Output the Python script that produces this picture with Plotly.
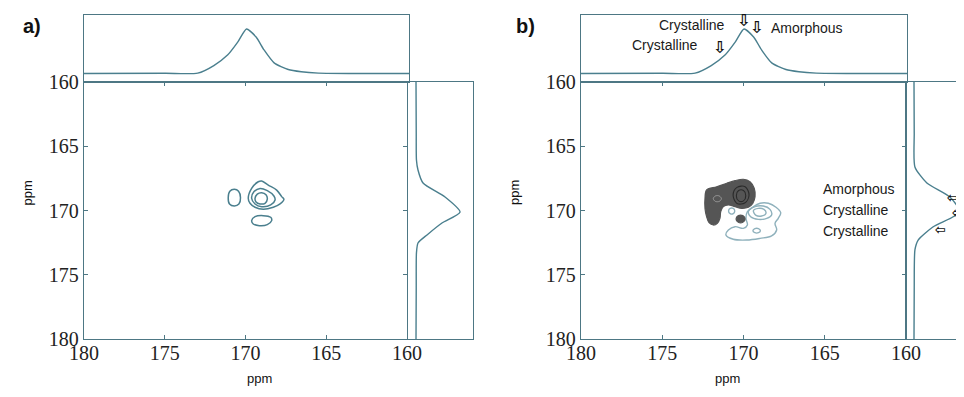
import plotly.graph_objects as go

# ---------------- data (ppm / relative intensity) ----------------
ticks_ppm = [180, 175, 170, 165, 160]

# F2 (horizontal) projection, used above both panels
proj_top_ppm = [180, 175, 173.0, 172.01, 171.15, 170.53, 170.0, 169.41, 168.92, 168.30, 167.43, 166.63, 165.57, 163, 160]
proj_top_int = [0.0, 0.005, 0.01, 0.18, 0.42, 0.71, 1.0, 0.82, 0.53, 0.24, 0.09, 0.04, 0.01, 0.0, 0.0]

# F1 (vertical) projection, panel a
proj_a_right_ppm = [160, 164, 166.07, 166.85, 167.86, 168.95, 170.12, 170.97, 171.9, 172.53, 173.3, 176, 180]
proj_a_right_int = [0, 0.005, 0.01, 0.045, 0.16, 0.66, 1.0, 0.59, 0.25, 0.045, 0.01, 0.005, 0]

# F1 (vertical) projection, panel b
proj_b_right_ppm = [160, 164, 166.61, 167.86, 168.95, 170.12, 171.28, 172.30, 173.07, 176, 180]
proj_b_right_int = [0, 0.005, 0.02, 0.28, 0.78, 1.0, 0.41, 0.09, 0.02, 0.005, 0]

# panel a contour rings (x ppm, y ppm)
a_left_x = [171.07, 170.97, 170.69, 170.43, 170.31, 170.41, 170.69, 170.99]
a_left_y = [169.0, 168.5, 168.35, 168.5, 169.0, 169.5, 169.65, 169.5]
a_outer_x = [169.83, 169.62, 169.21, 169.0, 168.59, 168.07, 167.76, 167.62, 167.86, 168.28, 168.90, 169.41, 169.72]
a_outer_y = [169.05, 168.28, 167.76, 167.70, 168.02, 168.41, 168.92, 169.13, 169.49, 169.75, 169.91, 169.75, 169.44]
a_mid_x = [169.62, 169.47, 169.10, 168.65, 168.24, 168.17, 168.44, 169.0, 169.41]
a_mid_y = [169.05, 168.53, 168.28, 168.46, 168.87, 169.18, 169.57, 169.70, 169.49]
a_inner_x = [169.41, 169.27, 169.0, 168.73, 168.65, 168.79, 169.10, 169.35]
a_inner_y = [169.05, 168.72, 168.61, 168.77, 169.11, 169.44, 169.49, 169.34]
a_low_x = [169.62, 169.41, 168.90, 168.44, 168.38, 168.65, 169.14, 169.52]
a_low_y = [170.79, 170.48, 170.40, 170.53, 170.79, 171.10, 171.18, 171.05]

# panel b: dark filled region
b_dark_x = [172.27, 171.65, 171.03, 170.52, 170.01, 169.6, 169.34, 169.29, 169.43, 169.7, 170.11, 170.52,
            170.94, 171.24, 171.4, 171.45, 171.61, 171.86, 172.12, 172.27, 172.37, 172.37]
b_dark_y = [168.4, 168.15, 167.88, 167.68, 167.57, 167.76, 168.27, 168.93, 169.44, 169.75, 169.83, 169.7,
            169.57, 169.7, 170.09, 170.61, 171.0, 171.13, 170.95, 170.48, 169.83, 169.05]
b_spot_x = [170.46, 170.32, 170.04, 169.9, 170.04, 170.32]
b_spot_y = [170.66, 170.4, 170.4, 170.66, 170.92, 170.92]
b_dring1_x = [170.64, 170.40, 169.90, 169.66, 169.90, 170.40]
b_dring1_y = [168.79, 168.2, 168.15, 168.79, 169.4, 169.45]
b_dring2_x = [170.44, 170.30, 170.0, 169.86, 170.0, 170.30]
b_dring2_y = [168.85, 168.45, 168.45, 168.85, 169.25, 169.25]
b_dsmall_x = [171.86, 171.73, 171.49, 171.36, 171.49, 171.73]
b_dsmall_y = [169.08, 168.87, 168.87, 169.08, 169.29, 169.29]

# panel b: light contours
b_outer_x = [171.08, 170.93, 170.52, 170.01, 169.76, 169.85, 169.76, 169.44, 168.98, 168.47, 168.0, 167.71,
             167.86, 168.06, 167.96, 168.27, 168.98, 169.8, 170.63]
b_outer_y = [171.91, 171.52, 171.26, 171.39, 171.13, 170.61, 170.09, 169.75, 169.44, 169.44, 169.75, 170.17,
             170.61, 171.0, 171.52, 171.98, 172.17, 172.3, 172.24]
b_mid_x = [169.70, 169.29, 168.78, 168.37, 168.27, 168.57, 169.09, 169.56]
b_mid_y = [170.09, 169.70, 169.65, 169.91, 170.35, 170.61, 170.69, 170.48]
b_in_x = [169.39, 169.09, 168.74, 168.62, 168.88, 169.23]
b_in_y = [170.01, 169.83, 169.91, 170.22, 170.43, 170.38]
b_left_x = [170.92, 170.82, 170.63, 170.54, 170.63, 170.82]
b_left_y = [170.04, 169.84, 169.84, 170.04, 170.25, 170.25]
b_low_x = [169.42, 169.30, 169.08, 168.96, 169.08, 169.30]
b_low_y = [171.57, 171.41, 171.41, 171.57, 171.73, 171.73]

# arrows / labels in panel b
top_arrow_ppm = [170.03, 169.23, 171.51]
top_arrow_int = [1.2, 1.045, 0.59]
top_lab_text = ["Crystalline", "Amorphous", "Crystalline"]
top_lab_ppm = [171.02, 168.49, 172.68]
top_lab_int = [1.09, 1.03, 0.64]
top_lab_anchor = ["right", "left", "right"]

right_arrow_ppm = [168.95, 170.17, 171.44]
right_arrow_int = [0.84, 0.95, 0.57]
right_lab_text = ["Amorphous", "Crystalline", "Crystalline"]
right_lab_x_ppm = 165.23
right_lab_y_ppm = [168.33, 169.96, 171.6]

# ---------------- styling ----------------
OFF = 8                      # page body margin
W, H = 964 - OFF, 397 - OFF
AX = "#4d7784"
CURVE = "#4a7f8e"
LIGHT = "#8fb1bc"
TICKFONT = dict(family="Liberation Serif", size=20, color="#222")

def px(v):
    return (v - OFF) / W

def py(v):
    return 1 - (v - OFF) / H

fig = go.Figure()

def closed(xs, ys):
    return xs + xs[:1], ys + ys[:1]

def ring(xs, ys, xa, ya, color, width=1.3, fill=None):
    cx, cy = closed(xs, ys)
    fig.add_trace(go.Scatter(x=cx, y=cy, xaxis=xa, yaxis=ya, mode="lines",
                             line=dict(color=color, width=width, shape="spline", smoothing=1.0),
                             fill="toself" if fill else None, fillcolor=fill,
                             hoverinfo="skip", showlegend=False))

# panel a
fig.add_trace(go.Scatter(x=proj_top_ppm, y=proj_top_int, xaxis="x2", yaxis="y2", mode="lines",
                         line=dict(color=CURVE, width=1.4, shape="spline", smoothing=0.6), showlegend=False))
fig.add_trace(go.Scatter(x=proj_a_right_int, y=proj_a_right_ppm, xaxis="x3", yaxis="y3", mode="lines",
                         line=dict(color=CURVE, width=1.4, shape="spline", smoothing=0.6), showlegend=False))
for xs, ys in [(a_left_x, a_left_y), (a_outer_x, a_outer_y), (a_mid_x, a_mid_y),
               (a_inner_x, a_inner_y), (a_low_x, a_low_y)]:
    ring(xs, ys, "x", "y", CURVE, 1.5)

# panel b
fig.add_trace(go.Scatter(x=proj_top_ppm, y=proj_top_int, xaxis="x5", yaxis="y5", mode="lines",
                         line=dict(color=CURVE, width=1.4, shape="spline", smoothing=0.6), showlegend=False))
fig.add_trace(go.Scatter(x=proj_b_right_int, y=proj_b_right_ppm, xaxis="x6", yaxis="y6", mode="lines",
                         line=dict(color=CURVE, width=1.4, shape="spline", smoothing=0.6), showlegend=False))
for xs, ys in [(b_outer_x, b_outer_y), (b_mid_x, b_mid_y), (b_in_x, b_in_y),
               (b_left_x, b_left_y), (b_low_x, b_low_y)]:
    ring(xs, ys, "x4", "y4", LIGHT, 1.4)
ring(b_dark_x, b_dark_y, "x4", "y4", "#555555", 1.2, fill="#555555")
ring(b_spot_x, b_spot_y, "x4", "y4", "#555555", 1.2, fill="#555555")
ring(b_dring1_x, b_dring1_y, "x4", "y4", "#2a2a2a", 1.1)
ring(b_dring2_x, b_dring2_y, "x4", "y4", "#2a2a2a", 1.1)
ring(b_dsmall_x, b_dsmall_y, "x4", "y4", "#9a9a9a", 1.0)

main_x = dict(range=[180, 160], tickvals=ticks_ppm, ticktext=[str(t) for t in ticks_ppm],
              ticks="inside", ticklen=4, tickcolor=AX, showline=True, linecolor=AX, linewidth=1.3,
              mirror="ticks", showgrid=False, zeroline=False, tickfont=TICKFONT, automargin=False,
              ticklabelstandoff=-4)
main_y = dict(range=[180, 160], tickvals=ticks_ppm, ticktext=[str(t) for t in ticks_ppm],
              ticks="inside", ticklen=4, tickcolor=AX, showline=True, linecolor=AX, linewidth=1.3,
              mirror="ticks", showgrid=False, zeroline=False, tickfont=TICKFONT, automargin=False)
box = dict(showline=True, linecolor=AX, linewidth=1.3, mirror=True, showgrid=False, zeroline=False,
           showticklabels=False, ticks="", automargin=False)

MAIN_Y = [py(339), py(82)]
TOP_Y = [py(82), py(15)]

layout = dict(
    template="none",
    width=W, height=H, margin=dict(l=0, r=0, t=0, b=0, pad=0), autosize=False,
    paper_bgcolor="white", plot_bgcolor="rgba(0,0,0,0)",
    xaxis=dict(main_x, domain=[px(84), px(407)], anchor="y"),
    yaxis=dict(main_y, domain=MAIN_Y, anchor="x"),
    xaxis2=dict(box, domain=[px(84), px(409)], range=[180, 160], anchor="y2"),
    yaxis2=dict(box, domain=TOP_Y, range=[-0.19, 1.315], anchor="x2"),
    xaxis3=dict(box, domain=[px(408), px(473)], range=[-0.182, 1.295], anchor="y3"),
    yaxis3=dict(box, domain=MAIN_Y, range=[180, 160], anchor="x3"),
    xaxis4=dict(main_x, domain=[px(581), px(906)], anchor="y4"),
    yaxis4=dict(main_y, domain=MAIN_Y, anchor="x4"),
    xaxis5=dict(box, domain=[px(581), px(907)], range=[180, 160], anchor="y5"),
    yaxis5=dict(box, domain=TOP_Y, range=[-0.19, 1.315], anchor="x5"),
    xaxis6=dict(box, domain=[px(906), 1.0], range=[-0.174, 1.087], anchor="y6"),
    yaxis6=dict(box, domain=MAIN_Y, range=[180, 160], anchor="x6", mirror=False),
)
fig.update_layout(**layout)

ann = []
LAB = dict(family="Liberation Sans", size=14, color="#1a1a1a")
ARW = dict(family="DejaVu Sans", size=16, color="#111")
ARW_R = dict(family="DejaVu Sans", size=13, color="#111")
# panel letters
ann.append(dict(text="<b>a)</b>", x=px(21), y=py(26), xref="paper", yref="paper", xanchor="left",
                yanchor="middle", showarrow=False, font=dict(family="Liberation Sans", size=20, color="#111")))
ann.append(dict(text="<b>b)</b>", x=px(514), y=py(26), xref="paper", yref="paper", xanchor="left",
                yanchor="middle", showarrow=False, font=dict(family="Liberation Sans", size=20, color="#111")))
# axis titles
for cx in [245, 742]:
    ann.append(dict(text="ppm", x=px(cx), y=py(388), xref="paper", yref="paper", showarrow=False,
                    font=dict(family="Liberation Sans", size=13, color="#111")))
for cx in [18, 515]:
    ann.append(dict(text="ppm", x=px(cx), y=py(193), xref="paper", yref="paper", showarrow=False,
                    textangle=-90, font=dict(family="Liberation Sans", size=13, color="#111")))
# top arrows and labels (panel b)
for xv, yv in zip(top_arrow_ppm, top_arrow_int):
    ann.append(dict(text="<b>\u21e9</b>", x=xv, y=yv, xref="x5", yref="y5", showarrow=False, font=ARW))
for t, xv, yv, a in zip(top_lab_text, top_lab_ppm, top_lab_int, top_lab_anchor):
    ann.append(dict(text=t, x=xv, y=yv, xref="x5", yref="y5", xanchor=a, showarrow=False, font=LAB))
# right arrows and labels (panel b)
for xv, yv in zip(right_arrow_int, right_arrow_ppm):
    ann.append(dict(text="<b>\u21e6</b>", x=xv, y=yv, xref="x6", yref="y6", showarrow=False, font=ARW_R))
for t, yv in zip(right_lab_text, right_lab_y_ppm):
    ann.append(dict(text=t, x=right_lab_x_ppm, y=yv, xref="x4", yref="y4", xanchor="left",
                    showarrow=False, font=LAB))
fig.update_layout(annotations=ann)

fig.write_html("out.html")
